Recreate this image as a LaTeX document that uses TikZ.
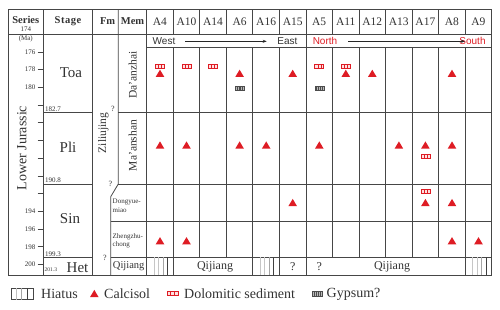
\documentclass[tikz,border=0pt]{standalone}
\usepackage{fontspec}
\setmainfont{Liberation Serif}
\newfontfamily\arialf{Liberation Sans}
\usetikzlibrary{arrows.meta}
\definecolor{gridc}{RGB}{70,70,70}
\definecolor{txtc}{RGB}{50,50,50}
\definecolor{mred}{RGB}{222,28,36}
\newcommand\fs[1]{\fontsize{#1}{#1}\selectfont}
\newcommand\fsl[2]{\fontsize{#1}{#2}\selectfont}
% markers
\newcommand\calcsol[2]{\fill[mred] (#1-4.3,#2+3.6) -- (#1+4.3,#2+3.6) -- (#1,#2-3.6) -- cycle;}
\newcommand\dolom[2]{%
  \draw[mred,line width=0.7pt,fill=red!12] (#1-4.5,#2-2) rectangle (#1+4.5,#2+2);
  \draw[mred,line width=0.5pt] (#1-1.5,#2-2) -- (#1-1.5,#2+2) (#1+1.5,#2-2) -- (#1+1.5,#2+2);}
\newcommand\gyps[2]{%
  \draw[black!70,line width=0.5pt,fill=gray!55] (#1-4.5,#2-2) rectangle (#1+4.5,#2+2);
  \draw[black!70,line width=0.4pt] (#1-2.7,#2-2) -- (#1-2.7,#2+2) (#1-0.9,#2-2) -- (#1-0.9,#2+2)
     (#1+0.9,#2-2) -- (#1+0.9,#2+2) (#1+2.7,#2-2) -- (#1+2.7,#2+2);}
\newcommand\hiat[4]{% x0 x1 y0 y1
  \draw[gray!45,line width=0.6pt] ({(#1)+0.28*((#2)-(#1))},#3) -- ({(#1)+0.28*((#2)-(#1))},#4);
  \draw[gray!45,line width=0.6pt] ({(#1)+0.44*((#2)-(#1))},#3) -- ({(#1)+0.44*((#2)-(#1))},#4);
  \draw[gray!70,line width=0.6pt] ({(#1)+0.61*((#2)-(#1))},#3) -- ({(#1)+0.61*((#2)-(#1))},#4);
  \draw[black!75,line width=0.6pt] ({(#1)+0.78*((#2)-(#1))},#3) -- ({(#1)+0.78*((#2)-(#1))},#4);}
\tikzset{
  grid/.style={gridc,line width=0.8pt},
  hdr/.style={font=\bfseries\fs{10.5},text=txtc,inner sep=0pt},
  col/.style={font=\fs{11.5},text=txtc,inner sep=0pt},
  stg/.style={font=\fs{15},text=txtc,inner sep=0pt},
  small/.style={font=\fs{7},text=txtc,inner sep=0pt},
  memsmall/.style={font=\fsl{7}{8.5},text=txtc,inner sep=0pt,anchor=west,align=left},
  memt/.style={font=\fs{11.5},text=txtc,inner sep=0pt,rotate=90},
  dir/.style={font=\arialf\fs{10},inner sep=0pt},
  leg/.style={font=\fs{14},text=txtc,inner sep=0pt,anchor=west},
  arr/.style={-{Stealth[length=4pt,width=3pt]},line width=0.6pt,black!85}
}
\begin{document}
\begin{tikzpicture}[x=1pt,y=-1pt]
\useasboundingbox (0,0) rectangle (500,309);
\def\L{8.3}\def\R{491.7}\def\T{9.3}\def\B{275}
\def\xa{146.7}\def\cw{26.54}
% outer frame and main lines
\draw[grid,line width=1pt] (\L,\T) rectangle (\R,\B);
\draw[grid] (\L,34) -- (\R,34);
\draw[grid] (43.3,\T) -- (43.3,\B);
\draw[grid] (92.7,\T) -- (92.7,\B);
\draw[grid] (118.3,\T) -- (118.3,184) -- (110.7,196.7) -- (110.7,\B);
\draw[grid] (\xa,\T) -- (\xa,\B);
% column verticals
\foreach \k in {1,...,12} {
  \draw[grid] ({\xa+\k*\cw},\T) -- ({\xa+\k*\cw},34);
  \draw[grid] ({\xa+\k*\cw},47.7) -- ({\xa+\k*\cw},257.3);
}
\draw[grid] ({\xa+6*\cw},34) -- ({\xa+6*\cw},47.7);
\foreach \k in {1,4,5,6,12} {\draw[grid] ({\xa+\k*\cw},257.3) -- ({\xa+\k*\cw},\B);}
% horizontal lines
\draw[grid] (\xa,47.7) -- (\R,47.7);
\draw[grid] (43.3,112.7) -- (92.7,112.7) (118.3,112.7) -- (\R,112.7);
\draw[grid] (43.3,184) -- (92.7,184) (118.3,184) -- (\R,184);
\draw[grid] (110.7,221.7) -- (\R,221.7);
\draw[grid] (43.3,257.3) -- (92.7,257.3) (110.7,257.3) -- (\R,257.3);
% age axis
\foreach \a in {176,178,...,200} {\draw[grid,line width=0.7pt] (37.7,{34.3+(\a-174)*8.85}) -- (43.3,{34.3+(\a-174)*8.85});}
\foreach \a in {176,178,180,194,196,198,200} {\node[small,anchor=east] (age\a) at (35.5,{34.3+(\a-174)*8.85}) {\a};}
% header
\node[hdr] (hseries) at (25.8,19.8) {Series};
\node[small] (h174) at (25.8,29.6) {174};
\node[small] (hma) at (25.8,38.8) {(Ma)};
\node[hdr] (hstage) at (68,21.5) {\addfontfeature{LetterSpace=5}Stage};
\node[hdr] (hfm) at (107.6,21.5) {Fm};
\node[hdr] (hmem) at (132.5,21.5) {Mem};
\foreach \n [count=\i from 0] in {A4,A10,A14,A6,A16,A15,A5,A11,A12,A13,A17,A8,A9} {
  \node[col] (c\n) at ({\xa+(\i+0.5)*\cw},22) {\n};
}
% direction row
\node[dir,text=txtc] (west) at (164,41.3) {West};
\node[dir,text=txtc] (east) at (287.5,41.3) {East};
\node[dir,text=mred] (north) at (325,41.3) {North};
\node[dir,text=mred] (south) at (472.5,41.3) {South};
\draw[arr] (185,41.3) -- (266.7,41.3);
\draw[arr] (348.3,41.3) -- (465,41.3);
% series / stage
\node[font=\fs{14},text=txtc,rotate=90,inner sep=0pt] (lj) at (21.7,148) {Lower Jurassic};
\node[stg] (toa) at (71,73) {Toa};
\node[stg] (pli) at (68,147) {Pli};
\node[stg] (sin) at (70,219) {Sin};
\node[stg] (het) at (77.5,268) {Het};
\node[small,anchor=south west] (b1827) at (45,111.8) {182.7};
\node[small,anchor=south west] (b1908) at (45,183.1) {190.8};
\node[small,anchor=south west] (b1993) at (45,256.4) {199.3};
\node[font=\fs{5.5},text=txtc,inner sep=0pt,anchor=west] (b2013) at (44.5,269.5) {201.3};
% formation / members
\node[memt] (zil) at (103.3,133) {Ziliujing};
\node[font=\fs{8},text=txtc,inner sep=0pt] (q1) at (113,109) {?};
\node[font=\fs{8},text=txtc,inner sep=0pt] (q2) at (110.5,183.5) {?};
\node[font=\fs{8},text=txtc,inner sep=0pt] (q3) at (105,258) {?};
\node[memt] (daan) at (132.7,75) {Da'anzhai};
\node[memt] (maan) at (132.7,145.5) {Ma'anshan};
\node[memsmall] (dong) at (112.5,205.5) {Dongyue-\\miao};
\node[memsmall] (zheng) at (112.5,241) {Zhengzhu-\\chong};
\node[font=\fs{10.5},text=txtc,inner sep=0pt] (qjm) at (128.7,266.5) {Qijiang};
% bottom row
\hiat{\xa}{\xa+\cw}{257.3}{\B}
\hiat{\xa+4*\cw}{\xa+5*\cw}{257.3}{\B}
\hiat{\xa+12*\cw}{\R}{257.3}{\B}
\node[font=\fs{12},text=txtc,inner sep=0pt] (qj1) at (215,266.5) {Qijiang};
\node[font=\fs{12},text=txtc,inner sep=0pt] (qa) at (292.7,266.5) {?};
\node[font=\fs{12},text=txtc,inner sep=0pt] (qb) at (319.3,266.5) {?};
\node[font=\fs{12},text=txtc,inner sep=0pt] (qj2) at (392,266.5) {Qijiang};
% markers: Toa
\dolom{160.0}{66} \calcsol{160.0}{73.3}
\dolom{186.5}{66}
\dolom{213.1}{66}
\calcsol{239.6}{73.3} \gyps{239.6}{88.3}
\calcsol{292.7}{73.3}
\dolom{319.3}{66} \gyps{319.3}{88.3}
\dolom{345.8}{66} \calcsol{345.8}{73.3}
\calcsol{372.3}{73.3}
\calcsol{452.0}{73.3}
% Pli
\foreach \cx in {160.0,186.5,239.6,266.2,319.3,398.9,425.4,452.0} {\calcsol{\cx}{145}}
\dolom{425.4}{156}
% Dongyuemiao
\calcsol{292.7}{202.5}
\dolom{425.4}{191.7} \calcsol{425.4}{202.5}
\calcsol{452.0}{202.5}
% Zhengzhuchong
\foreach \cx in {160.0,186.5,452.0,478.5} {\calcsol{\cx}{240.7}}
% legend
\draw[gridc,line width=0.6pt] (11.7,288) rectangle (33.3,299.5);
\foreach \lx/\lc in {16.7/gray!50,21.7/gray!70,27.3/black!75} {\draw[\lc,line width=0.6pt] (\lx,288) -- (\lx,299.5);}
\node[leg] (lhiat) at (41,294) {Hiatus};
\calcsol{94.3}{293.5}
\node[leg] (lcalc) at (104,294) {Calcisol};
\begin{scope}[shift={(172.5,293.3)},xscale=1.2,yscale=1.2]
\dolom{0}{0}
\end{scope}
\node[leg] (ldolo) at (184,294) {Dolomitic sediment};
\begin{scope}[shift={(317.3,293.8)},xscale=1.15,yscale=1.1]
\gyps{0}{0}
\end{scope}
\node[leg] (lgyps) at (326.5,294) {Gypsum?};
\end{tikzpicture}
\end{document}
